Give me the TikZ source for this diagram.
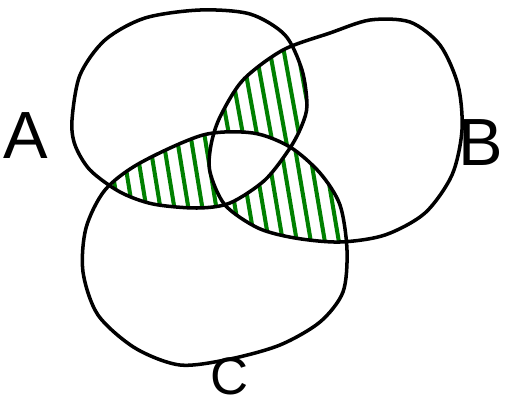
\documentclass[tikz,border=0pt]{standalone}
\usepackage{fontspec}
\setmainfont{Liberation Sans}

\begin{document}
\begin{tikzpicture}[x=0.02cm, y=-0.02cm]
    \tikzstyle{set} = [draw=black, line width=2pt, line join=round]
    \tikzstyle{hatch} = [draw=green!50!black, line width=2.3pt, line cap=round]
    \tikzstyle{lbl} = [inner sep=0pt, text height=27pt, text depth=0pt, font=\fontsize{38}{42}\selectfont]

    \useasboundingbox (0,0) rectangle (512,403);

    % the three sets, traced by hand
    \def\setA{plot[smooth cycle] coordinates {(72,120) (80,75) (105,40) (145,18) (200,10) (250,14) (285,35) (302,70) (307,105) (302,125) (290,148) (265,180) (230,203) (197,208) (153,204) (120,192) (90,170) (75,145)}}
    \def\setB{plot[smooth cycle] coordinates {(330,33) (370,20) (410,22) (440,45) (458,85) (462,130) (452,175) (425,213) (385,235) (340,242) (295,238) (258,228) (225,205) (210,172) (211,145) (220,117) (243,80) (283,50)}}
    \def\setC{plot[smooth cycle] coordinates {(140,163) (203,135) (253,133) (290,147) (320,173) (340,205) (347,250) (343,292) (320,322) (280,345) (230,359) (180,365) (135,348) (98,315) (83,272) (86,228) (105,190)}}

    % hatching of the parts that lie in exactly two sets
    \begin{scope}
        \clip \setA; \clip \setB;
        \foreach \x in {182,196,...,320} \draw[hatch] (\x,30) -- ++(40,220);
    \end{scope}
    \begin{scope}
        \clip \setA; \clip \setC;
        \foreach \x in {104,118,...,260} \draw[hatch] (\x,120) -- ++(18,110);
    \end{scope}
    \begin{scope}
        \clip \setB; \clip \setC;
        \foreach \x in {194,208,...,350} \draw[hatch] (\x,130) -- ++(22,130);
    \end{scope}
    \begin{scope}
        \clip \setA; \clip \setB;
        \fill[white] \setC;
    \end{scope}

    \draw[set] \setA;
    \draw[set] \setB;
    \draw[set] \setC;

    \node[lbl] (labA) at (26,135) {A};
    \node[lbl] (labB) at (481,142) {B};
    \node[lbl, text height=21pt, font=\fontsize{30}{34}\selectfont] (labC) at (230,376) {C};
\end{tikzpicture}
\end{document}
